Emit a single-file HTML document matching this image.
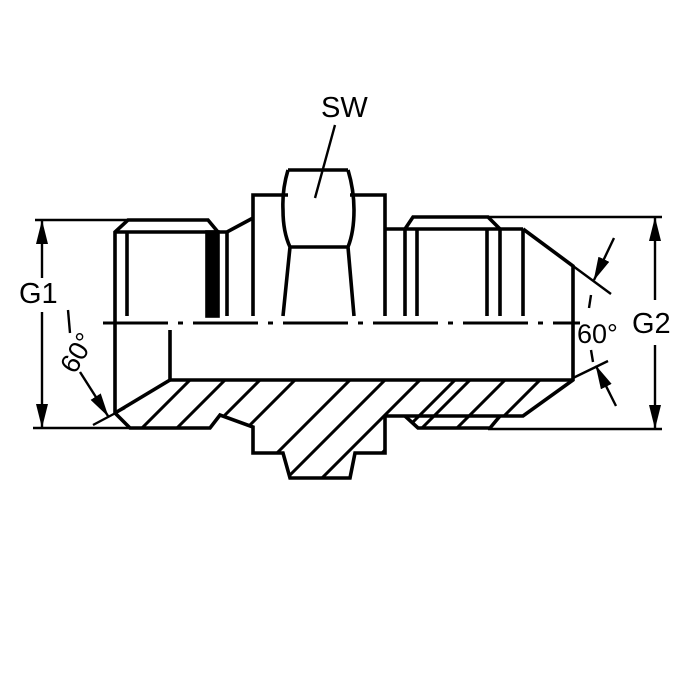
<!DOCTYPE html>
<html><head><meta charset="utf-8"><style>
html,body{margin:0;padding:0;background:#fff;}
svg{display:block}
text{font-family:"Liberation Sans",sans-serif;fill:#000}
</style></head><body>
<svg width="700" height="700" viewBox="0 0 700 700" xmlns="http://www.w3.org/2000/svg">
<defs>
<clipPath id="hc"><polygon points="170,380 573,380 523,416 500,416 488,428 418,428 405,416 385,416 385,453 355,453 350,478 290,478 283,453 253,453 253,427 220,415 210,428 130,428 115,413"/></clipPath>
<marker id="ar" markerWidth="24" markerHeight="12" refX="23" refY="6" orient="auto" markerUnits="userSpaceOnUse" viewBox="0 0 24 12"><path d="M0,0 L24,6 L0,12 z" fill="#000"/></marker>
</defs>
<g clip-path="url(#hc)" stroke="#000" stroke-width="3">
<line x1="100" y1="470" x2="220" y2="350"/><line x1="135" y1="470" x2="255" y2="350"/><line x1="170" y1="470" x2="290" y2="350"/><line x1="205" y1="470" x2="325" y2="350"/><line x1="240" y1="490" x2="360" y2="370"/><line x1="275" y1="490" x2="395" y2="370"/><line x1="310" y1="490" x2="430" y2="370"/><line x1="345" y1="490" x2="465" y2="370"/><line x1="380" y1="470" x2="500" y2="350"/><line x1="415" y1="470" x2="535" y2="350"/><line x1="450" y1="470" x2="570" y2="350"/><line x1="485" y1="470" x2="605" y2="350"/><line x1="520" y1="470" x2="640" y2="350"/>
</g>
<g fill="none" stroke="#000" stroke-width="3.6" stroke-linejoin="miter">
<polyline points="115,413 115,232 128,220 208,220 218,232"/>
<line x1="115" y1="232" x2="218" y2="232"/>
<line x1="127" y1="232" x2="127" y2="316"/>
<rect x="207" y="232" width="11" height="84" fill="#000"/>
<line x1="227" y1="232" x2="227" y2="316"/>
<polyline points="218,232 227,232 253,218"/>
<polyline points="253,316 253,195 288,195"/>
<path d="M288,170 L348,170 M288,170 Q282,190 283,210 Q283,232 290,247 L283,316 M348,170 Q354,190 354,210 Q354,232 348,247 L354,316 M290,247 L348,247"/>
<polyline points="350,195 385,195 385,316"/>
<line x1="385" y1="229" x2="523" y2="229"/>
<polyline points="405,229 413,217 488,217 500,229"/>
<line x1="405" y1="229" x2="405" y2="316"/>
<line x1="417" y1="229" x2="417" y2="316"/>
<line x1="487" y1="229" x2="487" y2="316"/>
<line x1="500" y1="229" x2="500" y2="316"/>
<line x1="523" y1="229" x2="523" y2="316"/>
<polyline points="523,229 573,266 573,380 523,416 385,416"/>
<polyline points="405,416 418,428 490,428 500,416"/>
<polyline points="170,330 170,380 573,380"/>
<line x1="115" y1="413" x2="170" y2="380"/>
<polyline points="115,413 130,428 210,428 220,415 253,427 253,453 283,453 290,478 350,478 355,453 385,453 385,416"/>
</g>
<line x1="103" y1="323" x2="580" y2="323" stroke="#000" stroke-width="3" stroke-dasharray="65,10,5,10"/>
<g stroke="#000" stroke-width="2.4" fill="none">
<line x1="35" y1="220" x2="128" y2="220"/>
<line x1="33" y1="428" x2="130" y2="428"/>
<line x1="488" y1="217" x2="662" y2="217"/>
<line x1="488" y1="429" x2="662" y2="429"/>
<line x1="42" y1="278" x2="42" y2="221" marker-end="url(#ar)"/>
<line x1="42" y1="312" x2="42" y2="427" marker-end="url(#ar)"/>
<line x1="655" y1="300" x2="655" y2="218" marker-end="url(#ar)"/>
<line x1="655" y1="345" x2="655" y2="428" marker-end="url(#ar)"/>
<line x1="80" y1="372" x2="108" y2="416" marker-end="url(#ar)"/>
<line x1="93" y1="425" x2="125" y2="408"/>
<line x1="68" y1="310" x2="70" y2="333"/>
<line x1="335" y1="125" x2="315" y2="198"/>
<line x1="573" y1="266" x2="611" y2="294"/>
<line x1="573" y1="378" x2="608" y2="361"/>
<line x1="614" y1="238" x2="594" y2="280" marker-end="url(#ar)"/>
<line x1="616" y1="406" x2="596" y2="366" marker-end="url(#ar)"/>
<line x1="591" y1="295" x2="589" y2="308"/>
<line x1="591" y1="350" x2="593" y2="362"/>
</g>
<text x="321" y="117" font-size="29">SW</text>
<text x="19" y="303" font-size="29">G1</text>
<text x="632" y="333" font-size="29">G2</text>
<text x="577" y="343" font-size="27">60°</text>
<text x="0" y="0" font-size="27" transform="translate(75,375) rotate(-60)">60°</text>
</svg>
</body></html>
